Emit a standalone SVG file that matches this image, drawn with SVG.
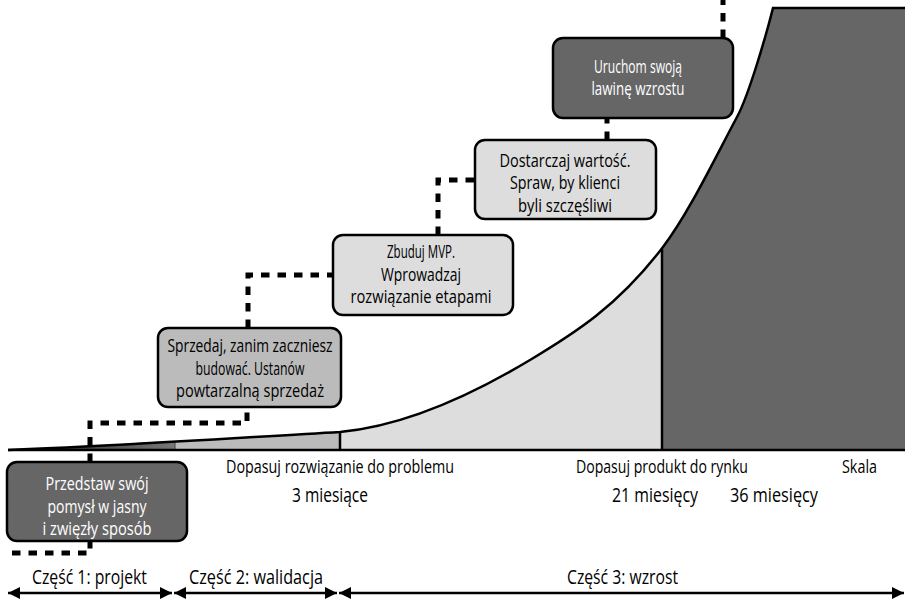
<svg xmlns="http://www.w3.org/2000/svg" width="905" height="601" viewBox="0 0 905 601">
  <style>
    .box { stroke: #000; stroke-width: 2.5; }
    .dark { fill: #666666; }
    .mid { fill: #bbbbbb; }
    .light { fill: #dddddd; }
    .t { font-family: "Open Sans", "Liberation Sans", sans-serif; text-anchor: middle; fill: #000; }
    .bt { font-size: 18px; }
    .w { fill: #ffffff; }
    .lab { font-size: 18px; }
    .num { font-size: 20.5px; }
    .part { font-size: 20.5px; }
    .dash { fill: none; stroke: #000; stroke-width: 5; stroke-dasharray: 8.5 8; }
    .arr { fill: none; stroke: #000; stroke-width: 2.5; marker-start: url(#ah); marker-end: url(#ah); }
  </style>
  <defs>
    <marker id="ah" markerUnits="userSpaceOnUse" markerWidth="13" markerHeight="13" refX="12" refY="6" orient="auto-start-reverse">
      <path d="M0,0 L12,6 L0,12 z" fill="#000"/>
    </marker>
    <linearGradient id="wedge" x1="0" y1="0" x2="1" y2="0">
      <stop offset="0" stop-color="#222"/>
      <stop offset="1" stop-color="#777"/>
    </linearGradient>
  </defs>

  <g id="chart">
    <path d="M8,450 C80,447 130,443 175,441 L175,450 Z" fill="url(#wedge)"/>
    <path d="M175,441 C230,438 290,435 340,432 L340,450 L175,450 Z" fill="#bbbbbb"/>
    <path d="M340,432 C405,426 470,396 530,360 C575,333 618,306 663,247 L663,450 L340,450 Z" fill="#dddddd"/>
    <path d="M663,247 C688,214 712,164 737,117 C749,95 767,32 773,8 L905,8 L905,450 L663,450 Z" fill="#666666"/>
    <line x1="175" y1="441" x2="175" y2="450" stroke="#444" stroke-width="1"/>
    <line x1="340" y1="432" x2="340" y2="450" stroke="#000" stroke-width="2.5"/>
    <line x1="662" y1="249" x2="662" y2="450" stroke="#000" stroke-width="2.5"/>
    <path d="M8,450 C120,446 250,437 340,432 C405,426 470,396 530,360 C575,333 618,306 663,247 C688,214 712,164 737,117 C749,95 767,32 773,8 L905,8" fill="none" stroke="#000" stroke-width="2.5"/>
    <line x1="8" y1="450" x2="905" y2="450" stroke="#000" stroke-width="2.5"/>
  </g>

  <g id="connectors">
    <path class="dash" d="M12,553 H90 V541"/>
    <path class="dash" d="M90,462 V423 H247 V407"/>
    <path class="dash" d="M248,328 V275 H333"/>
    <path class="dash" d="M438,235 V180 H475"/>
    <path class="dash" d="M607,140 V118"/>
    <path class="dash" d="M723,38 V0"/>
  </g>

  <g id="box1">
    <rect class="box dark" x="7" y="462" width="180" height="79" rx="10"/>
    <text class="t bt w" x="97" y="490" textLength="103" lengthAdjust="spacingAndGlyphs">Przedstaw swój</text>
    <text class="t bt w" x="97" y="512.5" textLength="99" lengthAdjust="spacingAndGlyphs">pomysł w jasny</text>
    <text class="t bt w" x="97" y="535" textLength="109" lengthAdjust="spacingAndGlyphs">i zwięzły sposób</text>
  </g>

  <g id="box2">
    <rect class="box mid" x="158" y="328" width="183" height="79" rx="10"/>
    <text class="t bt" x="250" y="352" textLength="165" lengthAdjust="spacingAndGlyphs">Sprzedaj, zanim zaczniesz</text>
    <text class="t bt" x="250" y="374.5" textLength="109" lengthAdjust="spacingAndGlyphs">budować. Ustanów</text>
    <text class="t bt" x="250" y="397" textLength="148" lengthAdjust="spacingAndGlyphs">powtarzalną sprzedaż</text>
  </g>

  <g id="box3">
    <rect class="box light" x="333" y="235" width="180" height="80" rx="10"/>
    <text class="t bt" x="421" y="258" textLength="68" lengthAdjust="spacingAndGlyphs">Zbuduj MVP.</text>
    <text class="t bt" x="421" y="280.5" textLength="80" lengthAdjust="spacingAndGlyphs">Wprowadzaj</text>
    <text class="t bt" x="421" y="303" textLength="141" lengthAdjust="spacingAndGlyphs">rozwiązanie etapami</text>
  </g>

  <g id="box4">
    <rect class="box light" x="475" y="140" width="181" height="79" rx="10"/>
    <text class="t bt" x="565" y="166.5" textLength="131" lengthAdjust="spacingAndGlyphs">Dostarczaj wartość.</text>
    <text class="t bt" x="565" y="189" textLength="110" lengthAdjust="spacingAndGlyphs">Spraw, by klienci</text>
    <text class="t bt" x="565" y="211.5" textLength="94" lengthAdjust="spacingAndGlyphs">byli szczęśliwi</text>
  </g>

  <g id="box5">
    <rect class="box dark" x="553" y="38" width="180" height="80" rx="10"/>
    <text class="t bt w" x="638" y="72.5" textLength="88" lengthAdjust="spacingAndGlyphs">Uruchom swoją</text>
    <text class="t bt w" x="638" y="95" textLength="93" lengthAdjust="spacingAndGlyphs">lawinę wzrostu</text>
  </g>

  <g id="labels">
    <text class="t lab" x="340" y="473" textLength="228" lengthAdjust="spacingAndGlyphs">Dopasuj rozwiązanie do problemu</text>
    <text class="t lab" x="662" y="473" textLength="172" lengthAdjust="spacingAndGlyphs">Dopasuj produkt do rynku</text>
    <text class="t lab" x="859.5" y="473" textLength="35" lengthAdjust="spacingAndGlyphs">Skala</text>
    <text class="t num" x="330" y="502" textLength="76" lengthAdjust="spacingAndGlyphs">3 miesiące</text>
    <text class="t num" x="655" y="502" textLength="86" lengthAdjust="spacingAndGlyphs">21 miesięcy</text>
    <text class="t num" x="774" y="502" textLength="88" lengthAdjust="spacingAndGlyphs">36 miesięcy</text>
  </g>

  <g id="phases">
    <text class="t part" x="89.5" y="584" textLength="115" lengthAdjust="spacingAndGlyphs">Część 1: projekt</text>
    <text class="t part" x="256" y="584" textLength="134" lengthAdjust="spacingAndGlyphs">Część 2: walidacja</text>
    <text class="t part" x="622.5" y="584" textLength="111" lengthAdjust="spacingAndGlyphs">Część 3: wzrost</text>
    <line class="arr" x1="8" y1="593" x2="172" y2="593"/>
    <line class="arr" x1="174" y1="593" x2="337" y2="593"/>
    <line class="arr" x1="339" y1="593" x2="904" y2="593"/>
  </g>
</svg>
